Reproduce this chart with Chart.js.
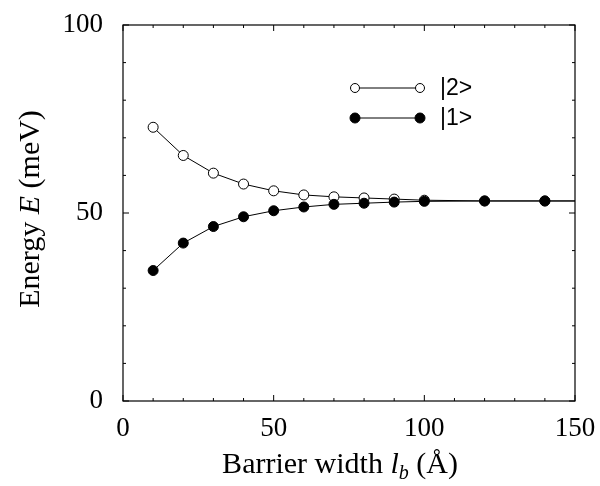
<!DOCTYPE html>
<html>
<head>
<meta charset="utf-8">
<script src="https://cdn.jsdelivr.net/npm/chart.js@4.4.1/dist/chart.umd.min.js"></script>
<style>
  html, body { margin: 0; padding: 0; background: #fff; }
  #wrap { width: 600px; height: 486px; }
</style>
</head>
<body>
<div id="wrap"><canvas id="chart" width="600" height="486"></canvas></div>
<script>
// barrier width (Angstrom)
const barrierWidth = [10, 20, 30, 40, 50, 60, 70, 80, 90, 100, 120, 140, 150];
// energies (meV)
const state2 = [72.8, 65.3, 60.6, 57.7, 55.9, 54.8, 54.3, 54.0, 53.7, 53.4, 53.2, 53.2, 53.2];
const state1 = [34.7, 42.0, 46.4, 49.0, 50.6, 51.6, 52.3, 52.6, 52.9, 53.1, 53.2, 53.2, 53.2];
const xTicks = [0, 50, 100, 150];
const yTicks = [0, 50, 100];
const legendLabels = ['|2>', '|1>'];

const serif = '"Liberation Serif", "Times New Roman", serif';
const sans = '"Liberation Sans", Arial, sans-serif';

const toPoints = (ys) => ys.map((y, i) => ({ x: barrierWidth[i], y: y }));
// last point only carries the line to the frame, no marker
const markerSizes = barrierWidth.map((x) => (x > 140 ? 0 : 5));

// frame + inward tick marks (minor every 10, major at labelled values)
const frameTicks = {
  id: 'frameTicks',
  afterDatasetsDraw(chart) {
    const { ctx, chartArea: a, scales } = chart;
    ctx.save();
    ctx.strokeStyle = '#000';
    ctx.lineWidth = 1.2;
    ctx.strokeRect(a.left, a.top, a.right - a.left, a.bottom - a.top);
    ctx.lineWidth = 1;
    ctx.beginPath();
    scales.x.ticks.forEach((t) => {
      const px = scales.x.getPixelForValue(t.value);
      const len = xTicks.includes(t.value) ? 6 : 3;
      ctx.moveTo(px, a.bottom); ctx.lineTo(px, a.bottom - len);
      ctx.moveTo(px, a.top); ctx.lineTo(px, a.top + len);
    });
    scales.y.ticks.forEach((t) => {
      const py = scales.y.getPixelForValue(t.value);
      const len = yTicks.includes(t.value) ? 6 : 3;
      ctx.moveTo(a.left, py); ctx.lineTo(a.left + len, py);
      ctx.moveTo(a.right, py); ctx.lineTo(a.right - len, py);
    });
    ctx.stroke();
    ctx.restore();
  }
};

// axis titles with italic symbols
const axisTitles = {
  id: 'axisTitles',
  afterDraw(chart) {
    const { ctx } = chart;
    ctx.save();
    ctx.fillStyle = '#000';
    ctx.textBaseline = 'alphabetic';

    // x title: Barrier width l_b (Å)
    const up = '30px ' + serif, it = 'italic 30px ' + serif, sub = 'italic 20px ' + serif;
    const parts = [[up, 'Barrier width ', 0], [it, 'l', 0], [sub, 'b', 6], [up, ' (Å)', 0]];
    let w = 0;
    parts.forEach((p) => { ctx.font = p[0]; w += ctx.measureText(p[1]).width; });
    let x = 340 - w / 2;
    parts.forEach((p) => {
      ctx.font = p[0];
      ctx.fillText(p[1], x, 473 + p[2]);
      x += ctx.measureText(p[1]).width;
    });

    // y title: Energy E (meV)
    ctx.translate(39, 209);
    ctx.rotate(-Math.PI / 2);
    const yparts = [[up, 'Energy '], [it, 'E'], [up, ' (meV)']];
    w = 0;
    yparts.forEach((p) => { ctx.font = p[0]; w += ctx.measureText(p[1]).width; });
    x = -w / 2;
    yparts.forEach((p) => {
      ctx.font = p[0];
      ctx.fillText(p[1], x, 0);
      x += ctx.measureText(p[1]).width;
    });
    ctx.restore();
  }
};

// legend: marker - line - marker, then label
const lineLegend = {
  id: 'lineLegend',
  afterDraw(chart) {
    const { ctx } = chart;
    const rows = [
      { y: 88, r: 4.5, fill: '#fff', text: legendLabels[0] },
      { y: 118, r: 5, fill: '#000', text: legendLabels[1] }
    ];
    ctx.save();
    rows.forEach((row) => {
      ctx.strokeStyle = '#000';
      ctx.lineWidth = 1;
      ctx.beginPath();
      ctx.moveTo(355, row.y); ctx.lineTo(420, row.y);
      ctx.stroke();
      [355, 420].forEach((cx) => {
        ctx.beginPath();
        ctx.arc(cx, row.y, row.r, 0, Math.PI * 2);
        ctx.fillStyle = row.fill;
        ctx.fill();
        ctx.stroke();
      });
      ctx.fillStyle = '#000';
      ctx.font = '23px ' + sans;
      ctx.textBaseline = 'middle';
      ctx.fillText(row.text, 440, row.y + 1);
    });
    ctx.restore();
  }
};

new Chart(document.getElementById('chart'), {
  type: 'scatter',
  data: {
    datasets: [
      {
        label: legendLabels[1],
        data: toPoints(state1),
        showLine: true,
        borderColor: '#000',
        borderWidth: 1,
        pointRadius: markerSizes,
        pointBackgroundColor: '#000',
        pointBorderColor: '#000',
        pointBorderWidth: 1,
        order: 0
      },
      {
        label: legendLabels[0],
        data: toPoints(state2),
        showLine: true,
        borderColor: '#000',
        borderWidth: 1,
        pointRadius: markerSizes,
        pointBackgroundColor: '#fff',
        pointBorderColor: '#000',
        pointBorderWidth: 1,
        order: 1
      }
    ]
  },
  options: {
    responsive: false,
    animation: false,
    clip: false,
    layout: { padding: { top: 25, right: 25, left: 0, bottom: 0 } },
    plugins: { legend: { display: false }, tooltip: { enabled: false } },
    scales: {
      x: {
        type: 'linear',
        min: 0,
        max: 150,
        grid: { display: false, drawTicks: false },
        border: { display: false },
        ticks: {
          stepSize: 10,
          autoSkip: false,
          maxRotation: 0,
          padding: 12,
          color: '#000',
          font: { family: serif, size: 27 },
          callback: (v) => (xTicks.includes(v) ? String(v) : '')
        },
        afterFit: (s) => { s.height = 85; s.paddingLeft = 0; s.paddingRight = 0; }
      },
      y: {
        type: 'linear',
        min: 0,
        max: 100,
        grid: { display: false, drawTicks: false },
        border: { display: false },
        ticks: {
          stepSize: 10,
          autoSkip: false,
          padding: 20,
          color: '#000',
          font: { family: serif, size: 27 },
          callback: (v) => (yTicks.includes(v) ? String(v) : '')
        },
        afterFit: (s) => { s.width = 123; s.paddingTop = 0; s.paddingBottom = 0; }
      }
    }
  },
  plugins: [frameTicks, axisTitles, lineLegend]
});
</script>
</body>
</html>
